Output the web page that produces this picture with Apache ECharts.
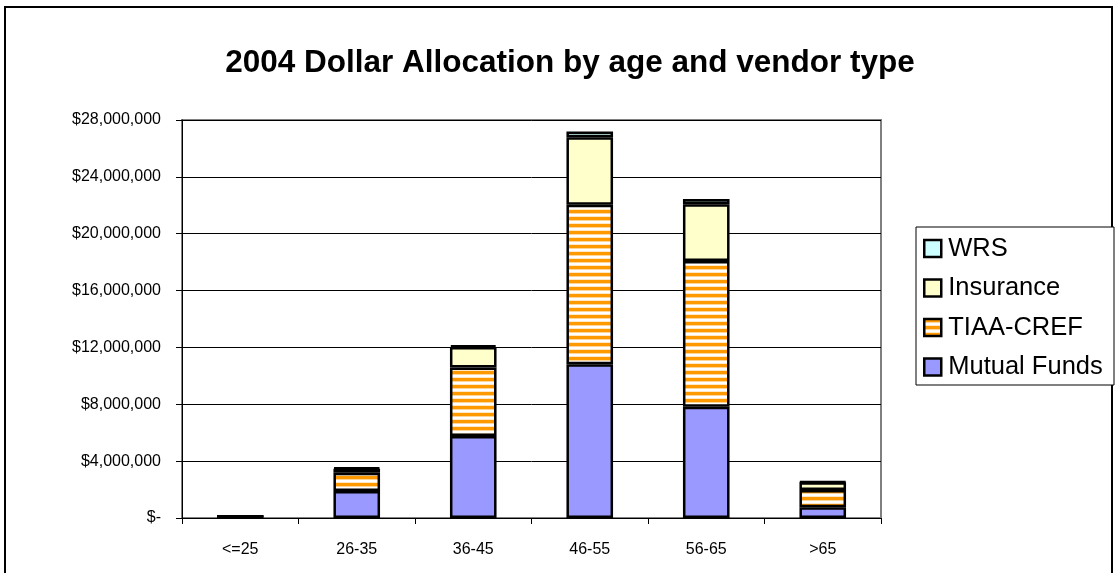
<!DOCTYPE html>
<html>
<head>
<meta charset="utf-8">
<script src="https://cdn.jsdelivr.net/npm/echarts@6/dist/echarts.min.js"></script>
<style>
html,body{margin:0;padding:0;background:#fff;}
#c{width:1117px;height:573px;}
</style>
</head>
<body>
<div id="c"></div>
<script>
var categories = ['<=25', '26-35', '36-45', '46-55', '56-65', '>65'];
var mutualFunds = [50000, 1900000, 5770000, 10820000, 7830000, 750000];
var tiaaCref = [50000, 1290000, 4810000, 11210000, 10250000, 1220000];
var insurance = [20000, 270000, 1450000, 4760000, 3990000, 540000];
var wrs = [10000, 80000, 120000, 400000, 380000, 50000];

var FONT = '"Liberation Sans", Arial, sans-serif';

function stripePattern() {
  var cv = document.createElement('canvas');
  cv.width = 8; cv.height = 7;
  var g = cv.getContext('2d');
  g.fillStyle = '#ffffff'; g.fillRect(0, 0, 8, 7);
  g.fillStyle = '#FF9900'; g.fillRect(0, 0, 8, 3);
  g.fillStyle = '#FFD699'; g.fillRect(0, 3, 8, 1);
  g.fillStyle = '#FFE8C8'; g.fillRect(0, 6, 8, 1);
  return cv;
}

function fmt(v) {
  if (v === 0) return '$-';
  return '$' + v.toString().replace(/\B(?=(\d{3})+(?!\d))/g, ',');
}

var chart = echarts.init(document.getElementById('c'), null, {renderer: 'canvas'});
var border = {borderColor: '#000', borderWidth: 2.5};
chart.setOption({
  animation: false,
  backgroundColor: '#fff',
  title: {
    text: '2004 Dollar Allocation by age and vendor type',
    left: 565, textAlign: 'center', top: 42,
    textStyle: {fontFamily: FONT, fontSize: 31.5, fontWeight: 'bold', color: '#000'}
  },
  grid: {left: 182, right: 236, top: 120, bottom: 55, show: true, borderColor: '#808080', borderWidth: 2, backgroundColor: 'transparent'},
  legend: {
    orient: 'vertical', left: 918, top: 230,
    data: ['WRS', 'Insurance', 'TIAA-CREF', 'Mutual Funds'],
    icon: 'rect', itemWidth: 17, itemHeight: 17, itemGap: 12.5,
    textStyle: {fontFamily: FONT, fontSize: 25.5, color: '#000', lineHeight: 27, padding: [0, 0, 0, 2]},
    itemStyle: {borderColor: '#000', borderWidth: 2.5}
  },
  xAxis: {
    type: 'category', data: categories,
    axisLine: {lineStyle: {color: '#000', width: 1}},
    axisTick: {show: true, length: 6, lineStyle: {color: '#000'}},
    axisLabel: {fontFamily: FONT, fontSize: 16, color: '#000', margin: 24}
  },
  yAxis: {
    type: 'value', min: 0, max: 28000000, interval: 4000000,
    axisLine: {show: true, lineStyle: {color: '#000', width: 1}},
    axisTick: {show: true, length: 6, lineStyle: {color: '#000'}},
    splitLine: {lineStyle: {color: '#000', width: 1}},
    axisLabel: {fontFamily: FONT, fontSize: 16, color: '#000', margin: 21, formatter: fmt}
  },
  graphic: [
    {type: 'rect', shape: {x: 5, y: 7, width: 1107, height: 600}, style: {fill: 'none', stroke: '#000', lineWidth: 2}, silent: true, z: -1},
    {type: 'rect', shape: {x: 916, y: 227, width: 198, height: 158}, style: {fill: '#fff', stroke: '#000', lineWidth: 1}, silent: true, z: -1}
  ],
  series: [
    {name: 'Mutual Funds', type: 'bar', stack: 't', data: mutualFunds, barWidth: '40%', itemStyle: Object.assign({color: '#9999FF'}, border)},
    {name: 'TIAA-CREF', type: 'bar', stack: 't', data: tiaaCref, itemStyle: Object.assign({color: {image: stripePattern(), repeat: 'repeat'}}, border)},
    {name: 'Insurance', type: 'bar', stack: 't', data: insurance, itemStyle: Object.assign({color: '#FFFFCC'}, border)},
    {name: 'WRS', type: 'bar', stack: 't', data: wrs, itemStyle: Object.assign({color: '#CCFFFF'}, border)}
  ]
});
</script>
</body>
</html>
